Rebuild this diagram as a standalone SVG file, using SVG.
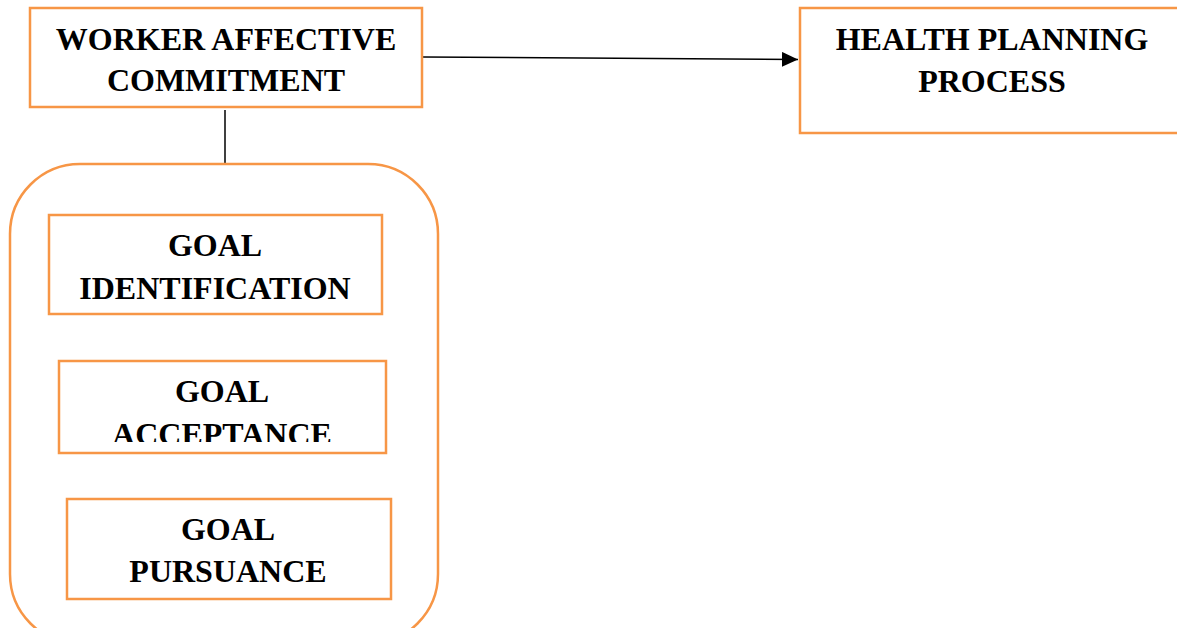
<svg xmlns="http://www.w3.org/2000/svg" width="1177" height="628" viewBox="0 0 1177 628">
<style>
.box{fill:#fff;stroke:#F79646;stroke-width:2.5}
.t{font-family:"Liberation Serif","Times New Roman",serif;font-weight:bold;font-size:32px;fill:#000;text-anchor:middle}
.ln{stroke:#000;stroke-width:1.5;fill:none}
</style>
<defs>
<marker id="ah" markerWidth="16" markerHeight="15" refX="16" refY="7.5" orient="auto" markerUnits="userSpaceOnUse">
<path d="M0,0 L16,7.5 L0,15 Z" fill="#000"/>
</marker>
<clipPath id="clipAcc"><rect x="0" y="0" width="1177" height="442"/></clipPath>
</defs>
<rect width="1177" height="628" fill="#fff"/>
<g id="connectors">
<line class="ln" x1="423" y1="57" x2="798" y2="59.5" marker-end="url(#ah)"/>
<line class="ln" x1="225" y1="110" x2="225" y2="167"/>
</g>
<g id="container">
<rect class="box" x="10" y="164" width="428" height="480" rx="70" ry="70"/>
</g>
<g id="worker">
<rect class="box" x="30" y="8" width="392" height="99"/>
<text class="t" x="226" y="50">WORKER AFFECTIVE</text>
<text class="t" x="226" y="91">COMMITMENT</text>
</g>
<g id="health">
<rect class="box" x="800" y="8" width="390" height="125"/>
<text class="t" x="992" y="50">HEALTH PLANNING</text>
<text class="t" x="992" y="92">PROCESS</text>
</g>
<g id="identification">
<rect class="box" x="49" y="215" width="333" height="99"/>
<text class="t" x="215" y="256">GOAL</text>
<text class="t" x="215" y="299">IDENTIFICATION</text>
</g>
<g id="acceptance">
<rect class="box" x="59" y="361" width="327" height="92"/>
<text class="t" x="222" y="402">GOAL</text>
<text class="t" x="222" y="445" clip-path="url(#clipAcc)">ACCEPTANCE</text>
</g>
<g id="pursuance">
<rect class="box" x="67" y="499" width="324" height="100"/>
<text class="t" x="228" y="540">GOAL</text>
<text class="t" x="228" y="582">PURSUANCE</text>
</g>
</svg>
